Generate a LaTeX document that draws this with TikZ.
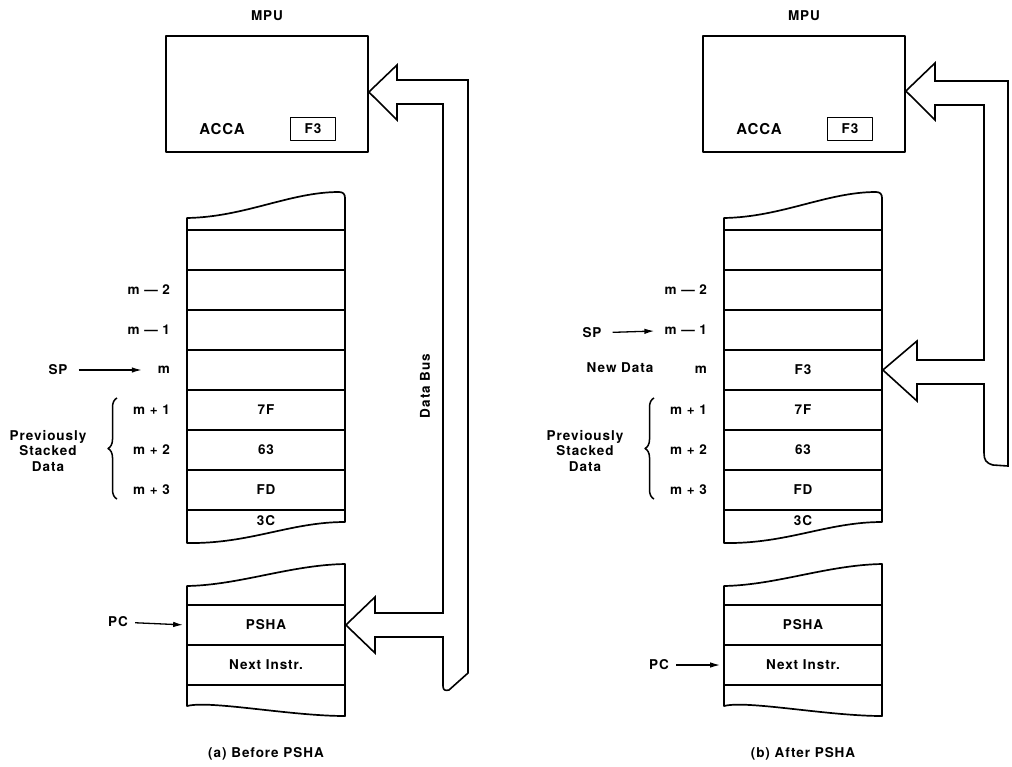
\documentclass[tikz,border=0pt]{standalone}
\usepackage{fontspec}
\setmainfont{TeX Gyre Heros}[LetterSpace=7]
\usetikzlibrary{arrows.meta,positioning,decorations.pathreplacing}

\tikzset{
  cell/.style={draw, minimum width=158pt, minimum height=40pt, inner sep=0pt},
  reg/.style={draw, minimum width=45pt, minimum height=23pt, inner sep=0pt, line width=1.4pt},
  ptr/.style={line width=1.3pt, -{Latex[length=10pt, width=5.5pt]}},
  bus/.style={line width=1.6pt, line join=miter},
  curly/.style={line width=1.5pt, decorate, decoration={brace, amplitude=9pt}},
}

\begin{document}
\begin{tikzpicture}[x=1pt, y=-1pt, line width=1.7pt, line join=round,
    font=\bfseries\fontsize{13.5}{15.5}\selectfont]
  \useasboundingbox (0,0) rectangle (1012,766);
  % los dos paneles: la MPU, la pila y el programa
  \foreach \p/\dx/\when in {a/0/Before, b/537/After} {
    \begin{scope}[xshift=\dx]
      % la MPU con el acumulador
      \node[draw, minimum width=202pt, minimum height=116pt, inner sep=0pt] (\p-mpu) at (267,94) {};
      \node (\p-mputxt) at (267,16) {MPU};
      \node (\p-acca) at (222,129) {\fontsize{15}{16}\selectfont ACCA};
      \node[reg] (\p-f3) at (313,129) {F3};
      % la pila: borde de arriba, celdas y borde de abajo
      \draw (187,230) -- (187,218) .. controls (245,217) and (290,192) .. (339,192)
        .. controls (343,192) and (345,194) .. (345,198) -- (345,230);
      \foreach \i/\t in {1/,2/,3/,4/,5/7F,6/63,7/FD}
        \node[cell] (\p-r\i) at (266,210+40*\i) {\t};
      \draw (187,510) -- (187,543) .. controls (250,544) and (290,522) .. (345,522) -- (345,510);
      \node (\p-r8) at (266,521) {3C};
      \foreach \i/\t in {2/m --- 2, 3/m --- 1, 4/m, 5/m + 1, 6/m + 2, 7/m + 3}
        \node[left=12pt of \p-r\i] (\p-l\i) {\t};
      \draw[curly] (117,499) -- (117,398);
      \node[align=center] (\p-prev) at (48,451) {Previously\\Stacked\\Data};
      % la memoria del programa
      \draw (187,605) -- (187,586) .. controls (240,585) and (290,565) .. (345,564) -- (345,605);
      \node[cell] (\p-m1) at (266,625) {PSHA};
      \node[cell] (\p-m2) at (266,665) {Next Instr.};
      \draw (187,685) -- (187,706) .. controls (210,700) and (290,716) .. (345,716) -- (345,685);
      \node (\p-cap) at (266,754) {(\p) \when\ PSHA};
    \end{scope}
  }
  % antes: SP en m, PC en PSHA
  \node (a-sp) at (58,370) {SP};
  \draw[ptr, shorten <=7pt, shorten >=12pt] (a-sp) -- (a-l4);
  \node (a-pc) at (118,622) {PC};
  \draw[ptr, shorten <=3pt, shorten >=3pt] (a-pc) -- (a-m1.west);
  \node[rotate=90] (a-busl) at (425,386) {Data Bus};
  \draw[bus] ([yshift=2pt]a-mpu.east) -- (397,65) -- (397,80) -- (468,80) -- (468,673)
    -- (449,690) .. controls (445,691) and (443,690) .. (443,686) -- (443,637)
    -- (375,637) -- (375,653) -- (a-m1.east) -- (375,597) -- (375,613) -- (443,613)
    -- (443,104) -- (397,104) -- (397,120) -- cycle;
  % después: SP en m - 1, el dato nuevo en m, PC en Next Instr.
  \node (b-sp) at (592,333) {SP};
  \draw[ptr, shorten <=7pt, shorten >=6pt] (b-sp) -- (b-l3);
  \node (b-new) at (620,368) {New Data};
  \node (b-f3new) at (b-r4) {F3};
  \node (b-pc) at (659,665) {PC};
  \draw[ptr, shorten <=3pt, shorten >=3pt] (b-pc) -- (b-m2.west);
  \draw[bus] ([yshift=3pt]b-mpu.east) -- (935,63) -- (935,81) -- (1008,81) -- (1008,466)
    -- (993,465) .. controls (986,463) and (984,460) .. (984,453) -- (984,384)
    -- (917,384) -- (917,401) -- (b-r4.east) -- (917,341) -- (917,360) -- (984,360)
    -- (984,105) -- (935,105) -- (935,120) -- cycle;
\end{tikzpicture}
\end{document}
